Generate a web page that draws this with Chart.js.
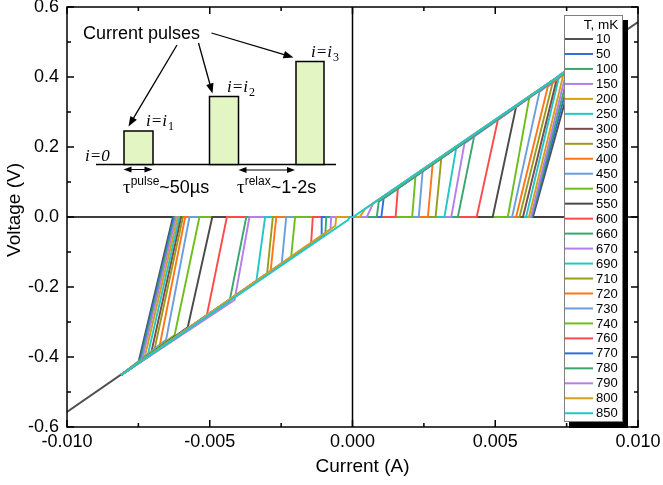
<!DOCTYPE html>
<html>
<head>
  <meta charset="utf-8">
  <title>Pulsed I-V curves</title>
  <style>
    html, body { margin: 0; padding: 0; background: #fff; }
    #wrap { width: 663px; height: 485px; }
  </style>
</head>
<body>
  <div id="wrap"><canvas id="chart" width="663" height="485"></canvas></div>

  <script src="https://cdn.jsdelivr.net/npm/chart.js"></script>
  <script>
    // temperatures (mK), one curve each
    const temps = [10, 50, 100, 150, 200, 250, 300, 350, 400, 450, 500, 550, 600,
      660, 670, 690, 710, 720, 730, 740, 760, 770, 780, 790, 800, 850];

    const colors = ['#505050', '#2a6fdb', '#3aa76d', '#b57ee8', '#d4a017', '#22c7c7', '#7b4a4a',
      '#9b9b1a', '#ff7518', '#6b9fdc', '#6cbf1a', '#4a4a4a', '#ff4a4a', '#3aa76d', '#b57ee8',
      '#22c7c7', '#9b9b1a', '#ff7518', '#6b9fdc', '#6cbf1a', '#ff4a4a', '#2a6fdb', '#3aa76d',
      '#b57ee8', '#d4a017', '#22c7c7'];

    // ends of the sweep (A, V)
    const iStart = [-0.010, -0.0081, -0.0081, -0.0081, -0.0081, -0.0081, -0.0081, -0.0081, -0.0081,
      -0.0081, -0.0081, -0.0081, -0.0081, -0.0081, -0.0081, -0.0081, -0.0081, -0.0081, -0.0081,
      -0.0081, -0.0081, -0.0081, -0.0081, -0.0081, -0.0081, -0.0081];
    const vStart = [-0.557, -0.451, -0.451, -0.451, -0.451, -0.451, -0.451, -0.451, -0.451, -0.451,
      -0.451, -0.451, -0.451, -0.451, -0.451, -0.451, -0.451, -0.451, -0.451, -0.451, -0.451,
      -0.451, -0.451, -0.451, -0.451, -0.451];
    const iEnd = [0.010, 0.0081, 0.0081, 0.0081, 0.0081, 0.0081, 0.0081, 0.0081, 0.0081, 0.0081,
      0.0081, 0.0081, 0.0081, 0.0081, 0.0081, 0.0081, 0.0081, 0.0081, 0.0081, 0.0081, 0.0081,
      0.0081, 0.0081, 0.0081, 0.0081, 0.0081];
    const vEnd = [0.557, 0.451, 0.451, 0.451, 0.451, 0.451, 0.451, 0.451, 0.451, 0.451, 0.451,
      0.451, 0.451, 0.451, 0.451, 0.451, 0.451, 0.451, 0.451, 0.451, 0.451, 0.451, 0.451, 0.451,
      0.451, 0.451];

    // negative branch: where the curve leaves the resistive line, and where it reaches V=0
    const joinNegI = [-0.0075, -0.00746, -0.00742, -0.00737, -0.00729, -0.00717, -0.00705, -0.00694,
      -0.00676, -0.00653, -0.00623, -0.00577, -0.0051, -0.00431, -0.00413, -0.00337, -0.00299,
      -0.00287, -0.00248, -0.00215, -0.00145, -0.0011, -0.00095, -0.00077, -0.0006, -0.00015];
    const joinNegV = [-0.416, -0.413, -0.41, -0.408, -0.404, -0.394, -0.388, -0.38, -0.37, -0.351,
      -0.337, -0.315, -0.28, -0.242, -0.237, -0.185, -0.161, -0.156, -0.134, -0.115, -0.075,
      -0.056, -0.047, -0.035, -0.025, -0.008];
    const swNeg = [-0.00629, -0.00626, -0.00622, -0.00618, -0.00612, -0.00606, -0.006, -0.00594,
      -0.00586, -0.00571, -0.00536, -0.00491, -0.0044, -0.00372, -0.00361, -0.00306, -0.00279,
      -0.00267, -0.00232, -0.00201, -0.00139, -0.00108, -0.00092, -0.00075, -0.00057, -0.0001];

    // positive branch: switching current at V=0, then where it meets the resistive line
    const swPos = [0.00632, 0.00629, 0.00627, 0.00625, 0.00618, 0.00608, 0.00597, 0.00585, 0.00573,
      0.00559, 0.00544, 0.00491, 0.00435, 0.00369, 0.00346, 0.00322, 0.00291, 0.00264, 0.00232,
      0.00209, 0.00151, 0.00101, 0.00085, 0.0005, 0.00025, 0.00005];
    const joinPosI = [0.0078, 0.0077, 0.0076, 0.0075, 0.0074, 0.00725, 0.00716, 0.00702, 0.00684,
      0.00655, 0.0062, 0.00573, 0.00509, 0.00427, 0.00392, 0.00363, 0.00311, 0.00281, 0.00246,
      0.00221, 0.00159, 0.00109, 0.00092, 0.00072, 0.00045, 0.00012];
    const joinPosV = [0.434, 0.429, 0.423, 0.418, 0.412, 0.406, 0.396, 0.387, 0.372, 0.358, 0.344,
      0.315, 0.277, 0.234, 0.21, 0.196, 0.168, 0.153, 0.134, 0.12, 0.082, 0.053, 0.044, 0.038,
      0.024, 0.006];

    const xMajor = [-0.01, -0.005, 0, 0.005, 0.01];
    const xMinor = [-0.0075, -0.0025, 0.0025, 0.0075];
    const yMajor = [-0.6, -0.4, -0.2, 0, 0.2, 0.4, 0.6];
    const yMinor = [-0.5, -0.3, -0.1, 0.1, 0.3, 0.5];

    const SANS = '"Liberation Sans", Arial, sans-serif';
    const SERIF = '"Liberation Serif", "Times New Roman", serif';

    const datasets = temps.map((t, i) => ({
      label: String(t),
      data: [
        {x: iStart[i], y: vStart[i]},
        {x: joinNegI[i], y: joinNegV[i]},
        {x: swNeg[i], y: 0},
        {x: swPos[i], y: 0},
        {x: joinPosI[i], y: joinPosV[i]},
        {x: iEnd[i], y: vEnd[i]}
      ],
      borderColor: colors[i],
      borderWidth: 1.9,
      pointRadius: 0,
      showLine: true,
      fill: false,
      order: temps.length - i   // later temperatures on top
    }));

    // zero lines under the curves
    const zeroLines = {
      id: 'zeroLines',
      beforeDatasetsDraw(chart) {
        const {ctx, chartArea: a, scales: {x, y}} = chart;
        ctx.save();
        ctx.strokeStyle = '#000';
        ctx.lineWidth = 1.5;
        ctx.beginPath();
        ctx.moveTo(x.getPixelForValue(0), a.top);
        ctx.lineTo(x.getPixelForValue(0), a.bottom);
        ctx.moveTo(a.left, y.getPixelForValue(0));
        ctx.lineTo(a.right, y.getPixelForValue(0));
        ctx.stroke();
        ctx.restore();
      }
    };

    // box frame with inward ticks on all four sides, plus axis titles
    const frame = {
      id: 'frame',
      afterDatasetsDraw(chart) {
        const {ctx, chartArea: a, scales: {x, y}} = chart;
        ctx.save();
        ctx.strokeStyle = '#000';
        ctx.lineWidth = 1.5;
        ctx.strokeRect(a.left, a.top, a.right - a.left, a.bottom - a.top);
        ctx.beginPath();
        const xt = (v, len) => {
          const p = x.getPixelForValue(v);
          ctx.moveTo(p, a.bottom); ctx.lineTo(p, a.bottom - len);
          ctx.moveTo(p, a.top); ctx.lineTo(p, a.top + len);
        };
        const yt = (v, len) => {
          const p = y.getPixelForValue(v);
          ctx.moveTo(a.left, p); ctx.lineTo(a.left + len, p);
          ctx.moveTo(a.right, p); ctx.lineTo(a.right - len, p);
        };
        xMajor.forEach(v => xt(v, 7));
        xMinor.forEach(v => xt(v, 4));
        yMajor.forEach(v => yt(v, 7));
        yMinor.forEach(v => yt(v, 4));
        ctx.stroke();

        ctx.fillStyle = '#000';
        ctx.font = '19px ' + SANS;
        ctx.textAlign = 'center';
        ctx.textBaseline = 'middle';
        ctx.fillText('Current (A)', (a.left + a.right) / 2 + 10, a.bottom + 40);
        ctx.translate(15, (a.top + a.bottom) / 2 - 7);
        ctx.rotate(-Math.PI / 2);
        ctx.fillText('Voltage (V)', 0, 0);
        ctx.restore();
      }
    };

    // boxed legend with drop shadow, top right inside the plot
    const boxLegend = {
      id: 'boxLegend',
      afterDraw(chart) {
        const ctx = chart.ctx;
        const left = 564, top = 15, w = 58, h = 406;
        ctx.save();
        ctx.fillStyle = '#000';
        ctx.fillRect(left + 5, top + 5, w + 1, h + 2);
        ctx.fillStyle = '#fff';
        ctx.fillRect(left, top, w, h);
        ctx.strokeStyle = '#808080';
        ctx.lineWidth = 1;
        ctx.strokeRect(left + 0.5, top + 0.5, w, h);
        ctx.fillStyle = '#000';
        ctx.font = '13.5px ' + SANS;
        ctx.textAlign = 'center';
        ctx.textBaseline = 'middle';
        ctx.fillText('T, mK', 601, top + 10);
        ctx.textAlign = 'left';
        ctx.font = '13px ' + SANS;
        chart.data.datasets.forEach((ds, i) => {
          const yy = 39 + i * 14.97;
          ctx.strokeStyle = ds.borderColor;
          ctx.lineWidth = 2;
          ctx.beginPath();
          ctx.moveTo(left + 1, yy);
          ctx.lineTo(left + 29, yy);
          ctx.stroke();
          ctx.fillStyle = '#000';
          ctx.fillText(ds.label, left + 32, yy + 0.5);
        });
        ctx.restore();
      }
    };

    function arrow(ctx, x1, y1, x2, y2, size) {
      const ang = Math.atan2(y2 - y1, x2 - x1);
      ctx.beginPath();
      ctx.moveTo(x1, y1);
      ctx.lineTo(x2 - Math.cos(ang) * size * 0.8, y2 - Math.sin(ang) * size * 0.8);
      ctx.stroke();
      ctx.beginPath();
      ctx.moveTo(x2, y2);
      ctx.lineTo(x2 - size * Math.cos(ang) + size * 0.38 * Math.sin(ang),
                 y2 - size * Math.sin(ang) - size * 0.38 * Math.cos(ang));
      ctx.lineTo(x2 - size * Math.cos(ang) - size * 0.38 * Math.sin(ang),
                 y2 - size * Math.sin(ang) + size * 0.38 * Math.cos(ang));
      ctx.closePath();
      ctx.fill();
    }

    function sub(ctx, x, base, main, low) {
      ctx.font = 'italic 17px ' + SERIF;
      ctx.fillText(main, x, base);
      const w = ctx.measureText(main).width;
      if (low) {
        ctx.font = '12px ' + SERIF;
        ctx.fillText(low, x + w + 1, base + 4);
      }
    }

    function tauText(ctx, x, base, sup, rest) {
      ctx.font = '19px ' + SERIF;
      ctx.fillText('\u03c4', x, base);
      let w = ctx.measureText('\u03c4').width;
      ctx.font = '12px ' + SANS;
      ctx.fillText(sup, x + w, base - 8);
      w += ctx.measureText(sup).width;
      ctx.font = '18px ' + SANS;
      ctx.fillText(rest, x + w, base);
    }

    // schematic of the current pulses (inset, top left)
    const inset = {
      id: 'inset',
      afterDraw(chart) {
        const ctx = chart.ctx;
        ctx.save();
        ctx.strokeStyle = '#000';
        ctx.fillStyle = '#000';
        ctx.lineWidth = 1.5;
        ctx.beginPath();
        ctx.moveTo(96, 164.5);
        ctx.lineTo(336, 164.5);
        ctx.stroke();
        [[124, 131, 29], [209.5, 96.5, 29], [296, 61.5, 28]].forEach(([bx, by, bw]) => {
          ctx.fillStyle = '#e2f5c2';
          ctx.fillRect(bx, by, bw, 164.5 - by);
          ctx.strokeRect(bx, by, bw, 164.5 - by);
        });
        ctx.fillStyle = '#000';
        ctx.lineWidth = 1.3;
        arrow(ctx, 177, 45, 128.5, 126.5, 10);
        arrow(ctx, 198.5, 43, 212.5, 93.5, 10);
        arrow(ctx, 211.5, 33, 293.5, 57.5, 10);
        ctx.lineWidth = 1;
        arrow(ctx, 138, 169.5, 123.5, 169.5, 8);
        arrow(ctx, 138, 169.5, 152.5, 169.5, 8);
        arrow(ctx, 266, 170, 238.5, 170, 8);
        arrow(ctx, 266, 170, 295, 170, 8);
        ctx.textBaseline = 'alphabetic';
        ctx.textAlign = 'left';
        ctx.font = '18px ' + SANS;
        ctx.fillText('Current pulses', 83, 39);
        sub(ctx, 85, 161, 'i=0', '');
        sub(ctx, 146, 126, 'i=i', '1');
        sub(ctx, 227, 92, 'i=i', '2');
        sub(ctx, 311, 57, 'i=i', '3');
        tauText(ctx, 123, 193, 'pulse', '~50\u00b5s');
        tauText(ctx, 237, 193, 'relax', '~1-2s');
        ctx.restore();
      }
    };

    new Chart(document.getElementById('chart'), {
      type: 'scatter',
      data: {datasets: datasets},
      options: {
        responsive: false,
        animation: false,
        layout: {padding: {top: 7, right: 25, left: 0, bottom: 0}},
        plugins: {legend: {display: false}, tooltip: {enabled: false}},
        scales: {
          x: {
            type: 'linear',
            min: -0.01, max: 0.01,
            afterFit: s => { s.height = 58; s.paddingLeft = 0; s.paddingRight = 0; },
            afterBuildTicks: s => { s.ticks = xMajor.map(v => ({value: v})); },
            grid: {display: false, drawTicks: false},
            border: {display: false},
            ticks: {
              padding: 4, color: '#000', maxRotation: 0,
              font: {family: SANS, size: 18},
              callback: v => v.toFixed(3)
            }
          },
          y: {
            type: 'linear',
            min: -0.6, max: 0.6,
            afterFit: s => { s.width = 67; s.paddingTop = 0; s.paddingBottom = 0; },
            afterBuildTicks: s => { s.ticks = yMajor.map(v => ({value: v})); },
            grid: {display: false, drawTicks: false},
            border: {display: false},
            ticks: {
              padding: 8, color: '#000',
              font: {family: SANS, size: 18},
              callback: v => v.toFixed(1)
            }
          }
        }
      },
      plugins: [zeroLines, frame, boxLegend, inset]
    });
  </script>
</body>
</html>
